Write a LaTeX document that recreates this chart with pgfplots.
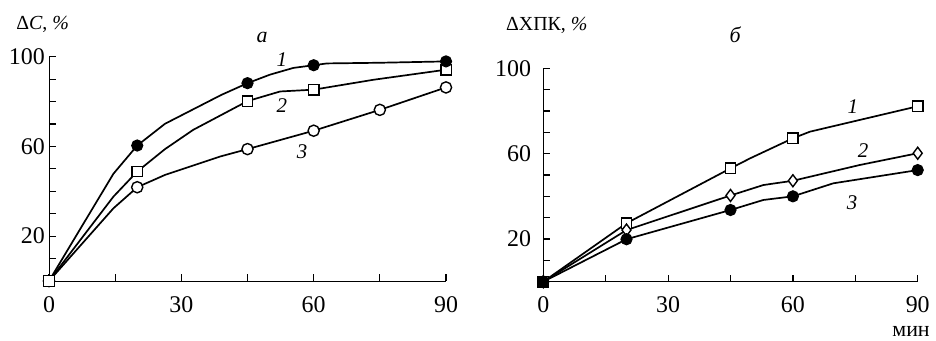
\documentclass[border=0pt]{standalone}
\usepackage{fontspec}
\setmainfont{Liberation Serif}
\usepackage{pgfplots}
\pgfplotsset{compat=1.18}
\tikzset{clab/.style={anchor=base, font=\fontsize{21}{21}\selectfont\itshape}}
\pgfplotsset{
  myax/.style={
    scale only axis, axis lines=left, axis line style={-, line width=1bp},
    xmin=0,xmax=90,ymin=0,ymax=100,
    xtick={0,30,60,90}, minor xtick={15,45,75},
    ytick={20,60,100}, minor ytick={10,30,40,50,70,80,90},
    tick align=inside,
    major tick length=6.5bp, minor tick length=6.5bp,
    tick style={line width=1.2bp, black},
    /pgf/number format/assume math mode=true,
    ticklabel style={font=\fontsize{24}{24}\selectfont},
    xticklabel style={anchor=base, inner sep=0pt, yshift=-31bp},
    clip=false,
  },
  ln/.style={black, line width=1.7bp, no markers},
  fc/.style={only marks, mark=*, mark size=5.6bp, mark options={fill=black, draw=black, line width=1bp}},
  oc/.style={only marks, mark=*, mark size=5.6bp, mark options={fill=white, draw=black, line width=1.4bp}},
  sq/.style={only marks, mark=square*, mark size=5.2bp, mark options={fill=white, draw=black, line width=1.4bp}},
  dm/.style={only marks, mark=diamond*, mark size=6bp, mark options={fill=white, draw=black, line width=1.4bp}},
}
\begin{document}
\begin{tikzpicture}
\useasboundingbox (0,0) rectangle (936bp,341bp);
% ---------- panel a ----------
\begin{axis}[myax, at={(49bp,60bp)}, anchor=south west, width=397bp, height=224.3bp,
  yticklabel style={anchor=east, inner sep=0pt, xshift=-4bp}]
\addplot[ln] coordinates {(0,0) (14.6,47.8) (20,60.4) (26.3,70.1) (39.1,83) (45,88.2) (50.1,92) (55.4,95) (60,96.2) (63,97) (75,97.3) (90,97.9)};
\addplot[ln] coordinates {(0,0) (14.6,37.6) (20,48.8) (26.3,58.8) (32.7,67.4) (45,80.2) (52.4,84.5) (60,85.3) (73.5,89.7) (90,94.2)};
\addplot[ln] coordinates {(0,0) (14.6,32.4) (20,41.8) (26.3,47.3) (38.8,55.5) (45,58.8) (60,67) (75,76.3) (90,86.3)};
\addplot[oc] coordinates {(0,0) (20,41.8) (45,58.8) (60,67) (75,76.3) (90,86.3)};
\addplot[sq] coordinates {(0,0) (20,48.8) (45,80.2) (60,85.3) (90,94.2)};
\addplot[fc] coordinates {(20,60.4) (45,88.2) (60,96.2) (90,97.9)};
\node[anchor=base west, font=\fontsize{20}{20}\selectfont] at (axis cs:-8.2,112) {Δ\textit{C}, \textit{\%}};
\node[anchor=base, font=\fontsize{22}{22}\selectfont\itshape] at (axis cs:48.3,106.4) {а};
\node[clab] at (axis cs:52.8,95.7) {1};
\node[clab] at (axis cs:52.8,75) {2};
\node[clab] at (axis cs:57.4,54.5) {3};
\end{axis}
% ---------- panel b ----------
\begin{axis}[myax, at={(543.3bp,59.3bp)}, anchor=south west, width=374.4bp, height=213.4bp,
  yticklabel style={anchor=east, inner sep=0pt, xshift=-12bp}]
\addplot[ln] coordinates {(0,0) (20,27.4) (45,53.1) (49.7,57.8) (60,67.2) (64.1,70.3) (90,82.2)};
\addplot[ln] coordinates {(0,0) (20,24.2) (45,40.4) (52.9,45.3) (60,47.3) (76.1,54.7) (90,60.2)};
\addplot[ln] coordinates {(0,0) (20,19.9) (45,33.6) (52.9,38.3) (60,40) (69.7,46.1) (90,52.3)};
\addplot[sq] coordinates {(0,0) (20,27.4) (45,53.1) (60,67.2) (90,82.2)};
\addplot[dm] coordinates {(0,0) (20,24.2) (45,40.4) (60,47.3) (90,60.2)};
\addplot[fc] coordinates {(0,0) (20,19.9) (45,33.6) (60,40) (90,52.3)};
\node[anchor=base west, font=\fontsize{20}{20}\selectfont] at (axis cs:-9.8,117.9) {ΔХПК, \textit{\%}};
\node[anchor=base, font=\fontsize{22}{22}\selectfont\itshape] at (axis cs:46.1,112) {б};
\node[clab] at (axis cs:74.4,79) {1};
\node[clab] at (axis cs:76.9,58.4) {2};
\node[clab] at (axis cs:74.2,33.6) {3};
\node[anchor=base, font=\fontsize{22}{22}\selectfont] at (axis cs:88.4,-25.6) {мин};
\end{axis}
\end{tikzpicture}
\end{document}
